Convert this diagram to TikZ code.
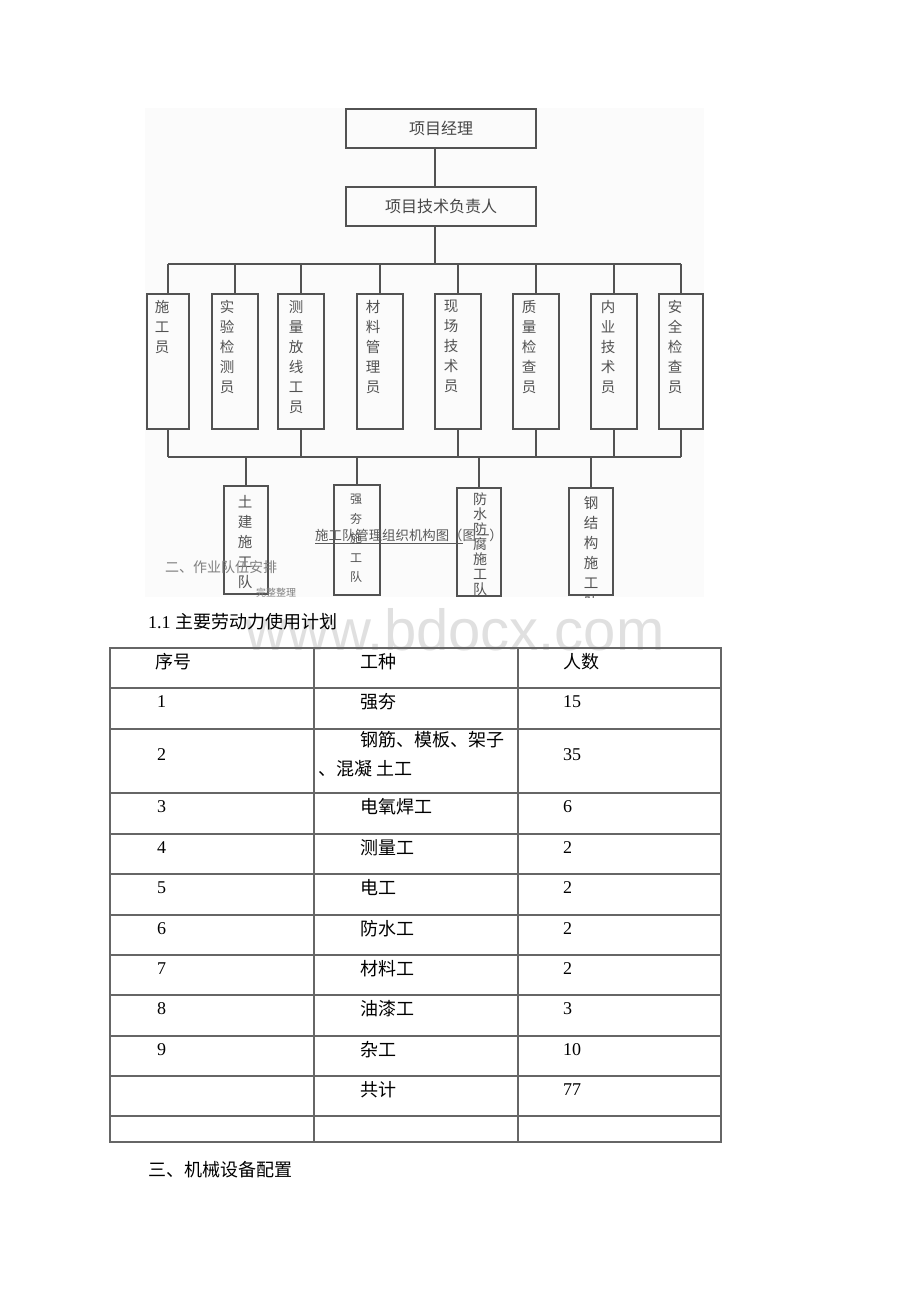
\documentclass[tikz,border=0pt]{standalone}
\usepackage{fontspec}
\setmainfont{Liberation Serif}
\newfontfamily\cjk{Noto Sans CJK SC}
\newfontfamily\wmfont{Liberation Sans}
\begin{document}
\begin{tikzpicture}[x=1pt,y=-1pt,
  chartline/.style={draw=black!68, line width=1.6pt},
  topbox/.style={draw=black!68, line width=1.6pt, minimum width=190pt, minimum height=39pt, inner sep=0pt,
     font=\cjk\fontsize{16}{18}\selectfont, text=black!72},
  staffbox/.style={draw=black!68, line width=1.6pt, minimum height=135pt, inner sep=0pt, anchor=north},
  teambox/.style={draw=black!68, line width=1.5pt, inner sep=0pt, anchor=north},
  vlabel/.style={align=center, inner sep=0pt, anchor=north, text=black!68, font=\cjk\fontsize{14.5}{20}\selectfont},
  tline/.style={draw=black!60, line width=1.1pt},
  cell/.style={anchor=west, inner sep=0pt, text=black, font=\cjk\fontsize{18}{20}\selectfont},
  num/.style={anchor=west, inner sep=0pt, text=black, font=\rmfamily\fontsize{18}{20}\selectfont},
  head/.style={anchor=west, inner sep=0pt, text=black, font=\cjk\fontsize{18}{20}\selectfont}
]
\useasboundingbox (0,0) rectangle (920,1302);
\fill[white] (0,0) rectangle (920,1302);

% ---------- organisation chart (scanned image area) ----------
\begin{scope}
\clip (145,108) rectangle (704,597);
\fill[black!1.5] (145,108) rectangle (704,597);

\node[topbox] (pm) at (441,128.5) {项目经理};
\node[topbox] (tech) at (441,206.5) {项目技术负责人};

\node[staffbox, minimum width=42pt] (s1) at (168,293) {};
\node[staffbox, minimum width=46pt] (s2) at (235,293) {};
\node[staffbox, minimum width=46pt] (s3) at (301,293) {};
\node[staffbox, minimum width=46pt] (s4) at (380,293) {};
\node[staffbox, minimum width=46pt] (s5) at (458,293) {};
\node[staffbox, minimum width=46pt] (s6) at (536,293) {};
\node[staffbox, minimum width=46pt] (s7) at (614,293) {};
\node[staffbox, minimum width=44pt] (s8) at (681,293) {};

\node[vlabel] (s1t) at (162,300) {施\\工\\员};
\node[vlabel] (s2t) at (227,300) {实\\验\\检\\测\\员};
\node[vlabel] (s3t) at (296,300) {测\\量\\放\\线\\工\\员};
\node[vlabel] (s4t) at (373,300) {材\\料\\管\\理\\员};
\node[vlabel] (s5t) at (451,300) {现\\场\\技\\术\\员};
\node[vlabel] (s6t) at (529,300) {质\\量\\检\\查\\员};
\node[vlabel] (s7t) at (608,300) {内\\业\\技\\术\\员};
\node[vlabel] (s8t) at (675,300) {安\\全\\检\\查\\员};

\coordinate (tbL) at (168,264);
\coordinate (tbR) at (681,264);
\coordinate (bbL) at (168,457);
\coordinate (bbR) at (681,457);

\draw[chartline] ([xshift=-6pt]pm.south) -- ([xshift=-6pt]tech.north);
\draw[chartline] ([xshift=-6pt]tech.south) -- ([xshift=-6pt]tech.south |- tbL);
\draw[chartline] (tbL) -- (tbR);
\foreach \n in {1,...,8} \draw[chartline] (s\n.north) -- (s\n.north |- tbL);
\draw[chartline] (bbL) -- (bbR);
\foreach \n in {1,3,5,6,7,8} \draw[chartline] (s\n.south) -- (s\n.south |- bbL);

\node[teambox, minimum width=44pt, minimum height=108pt] (t1) at (246,485) {};
\node[teambox, minimum width=46pt, minimum height=110pt] (t2) at (357,484) {};
\node[teambox, minimum width=44pt, minimum height=108pt] (t3) at (479,487) {};
\node[teambox, minimum width=44pt, minimum height=107pt] (t4) at (591,487) {};
\foreach \n in {1,...,4} \draw[chartline, line width=1.4pt] (t\n.north) -- (t\n.north |- bbL);

\node[vlabel] (t1t) at (245,495) {土\\建\\施\\工\\队};
\node[vlabel, font=\cjk\fontsize{12}{19.5}\selectfont] (t2t) at (356,494) {强\\夯\\施\\工\\队};
\node[vlabel, font=\cjk\fontsize{14}{15}\selectfont] (t3t) at (480,493) {防\\水\\防\\腐\\施\\工\\队};
\node[vlabel] (t4t) at (591,496) {钢\\结\\构\\施\\工\\队};

\node[anchor=west, inner sep=0pt, text=black!65, font=\cjk\fontsize{13.4}{15}\selectfont] (cap) at (315,535) {施工队管理组织机构图（图一）};
\draw[draw=black!65, line width=0.9pt] ([yshift=-8pt]cap.west) -- ([yshift=-8pt,xshift=-40pt]cap.east);
\node[anchor=west, inner sep=0pt, text=black!50, font=\cjk\fontsize{14}{16}\selectfont] (sec2) at (165,567) {二、作业队伍安排};
\node[anchor=west, inner sep=0pt, text=black!50, font=\cjk\fontsize{10}{12}\selectfont] (wm2) at (256,593) {完整整理};
\end{scope}

% ---------- watermark ----------
\node[inner sep=0pt, text=black!12, font=\wmfont\fontsize{58}{60}\selectfont] (wm) at (455,630) {www.bdocx.com};

% ---------- table heading ----------
\node[anchor=west, inner sep=0pt, font=\fontsize{18}{20}\selectfont] (h11) at (148,622) {1.1 {\cjk 主要劳动力使用计划}};

% ---------- table ----------
\draw[tline] (110,648) rectangle (721,1142);
\foreach \yy in {688,729,793,834,874,915,955,995,1036,1076,1116}
  \draw[tline] (110,\yy) -- (721,\yy);
\draw[tline] (314,648) -- (314,1142);
\draw[tline] (518,648) -- (518,1142);

\node[head] (c00) at (155,662) {序号};
\node[head] (c01) at (360,662) {工种};
\node[head] (c02) at (563,662) {人数};

\node[num] (r1a) at (157,702) {1};
\node[cell] (r1b) at (360,702) {强夯};
\node[num] (r1c) at (563,702) {15};

\node[num] (r2a) at (157,755) {2};
\node[cell] (r2b) at (360,740) {钢筋、模板、架子};
\node[cell] (r2d) at (318,769) {、混凝\ 土工};
\node[num] (r2c) at (563,755) {35};

\node[num] (r3a) at (157,807) {3};
\node[cell] (r3b) at (360,807) {电氧焊工};
\node[num] (r3c) at (563,807) {6};

\node[num] (r4a) at (157,848) {4};
\node[cell] (r4b) at (360,848) {测量工};
\node[num] (r4c) at (563,848) {2};

\node[num] (r5a) at (157,888) {5};
\node[cell] (r5b) at (360,888) {电工};
\node[num] (r5c) at (563,888) {2};

\node[num] (r6a) at (157,929) {6};
\node[cell] (r6b) at (360,929) {防水工};
\node[num] (r6c) at (563,929) {2};

\node[num] (r7a) at (157,969) {7};
\node[cell] (r7b) at (360,969) {材料工};
\node[num] (r7c) at (563,969) {2};

\node[num] (r8a) at (157,1009) {8};
\node[cell] (r8b) at (360,1009) {油漆工};
\node[num] (r8c) at (563,1009) {3};

\node[num] (r9a) at (157,1050) {9};
\node[cell] (r9b) at (360,1050) {杂工};
\node[num] (r9c) at (563,1050) {10};

\node[cell] (rtb) at (360,1090) {共计};
\node[num] (rtc) at (563,1090) {77};

% ---------- section heading ----------
\node[head] (sec3) at (148,1170) {三、机械设备配置};
\end{tikzpicture}
\end{document}
